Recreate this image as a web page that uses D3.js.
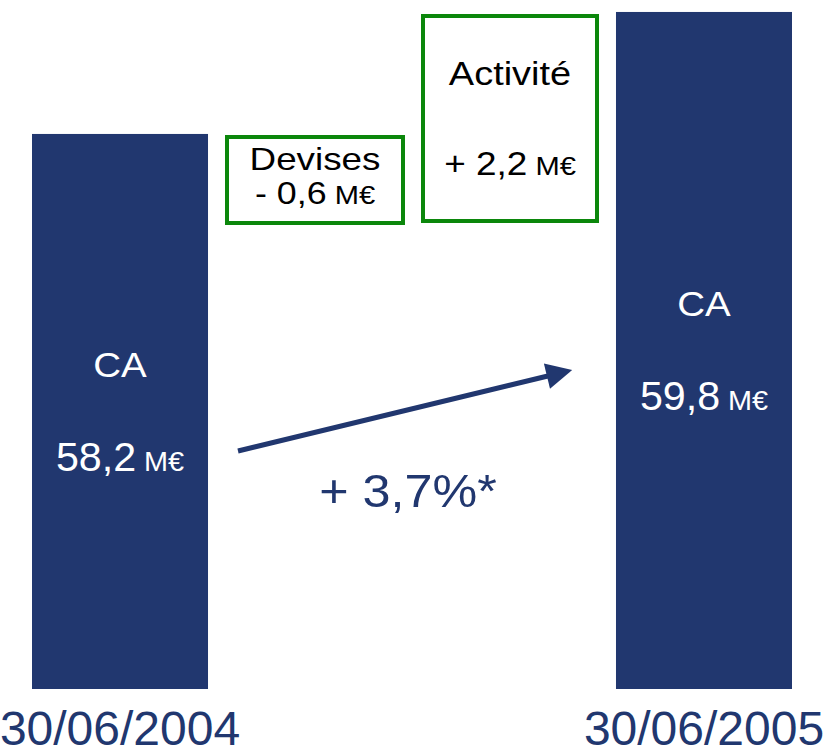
<!DOCTYPE html>
<html>
<head>
<meta charset="utf-8">
<script src="https://cdn.jsdelivr.net/npm/d3@7"></script>
<style>
  body { margin: 0; background: #fff; }
  svg { display: block; font-family: "Liberation Sans", Arial, sans-serif; }
</style>
</head>
<body>
<svg class="chart"></svg>
<script>
// data
var dates = ["30/06/2004", "30/06/2005"];
var caValues = [58.2, 59.8];
var stepNames = ["Devises", "Activité"];
var stepValues = [-0.6, 2.2];
var growthLabel = "+ 3,7%*";

var navy = "#21376f",
	green = "#0b870b";

var w = 825, h = 751;
var comma = function(v) { return Math.abs(v).toFixed(1).replace(".", ","); };
var fmt = function(v) { return (v > 0 ? "+ " : "- ") + comma(v); };
// slide text is a bit wider than the font, stretch horizontally
var place = function(x, y, sx) { return "translate(" + x + "," + y + ") scale(" + sx + ",1)"; };

var chart = d3.select(".chart")
	.attr("width", w)
	.attr("height", h);

// X scale
var xScale = d3.scaleBand()
	.domain(dates)
	.range([32, 792])
	.paddingInner(0.6986)
	.paddingOuter(0);

// Y scale (truncated axis, like the original slide)
var yScale = d3.scaleLinear()
	.domain([50.92, 59.957])
	.range([689, 0]);

var data = dates.map(function(d, i) { return {date: d, value: caValues[i]}; });
var cx = function(d) { return xScale(d.date) + xScale.bandwidth() / 2; };
var cy = function(d) { return (yScale(d.value) + yScale.range()[0]) / 2; };

var bar = chart.selectAll("g.bar")
	.data(data)
	.enter().append("g")
	.attr("class", "bar");

bar.append("rect")
	.attr("x", function(d) { return xScale(d.date); })
	.attr("y", function(d) { return yScale(d.value); })
	.attr("width", xScale.bandwidth())
	.attr("height", function(d) { return yScale.range()[0] - yScale(d.value); })
	.attr("fill", navy);

// CA label, centred in the bar
bar.append("text")
	.attr("transform", function(d) { return place(cx(d), cy(d) - 34, 1.1); })
	.attr("text-anchor", "middle")
	.attr("font-size", 35)
	.attr("fill", "#fff")
	.text("CA");

var val = bar.append("text")
	.attr("transform", function(d) { return place(cx(d), cy(d) + 60, 1.03); })
	.attr("text-anchor", "middle")
	.attr("font-size", 40)
	.attr("fill", "#fff");
val.append("tspan").text(function(d) { return comma(d.value); });
val.append("tspan").attr("font-size", 28).text(" M€");

// date labels
chart.append("g")
	.selectAll("text")
	.data(dates)
	.enter().append("text")
	.attr("x", function(d) { return xScale(d) + xScale.bandwidth() / 2; })
	.attr("y", 745)
	.attr("text-anchor", "middle")
	.attr("font-size", 48)
	.attr("fill", navy)
	.text(function(d) { return d; });

// bridge boxes
var boxes = [
	{x: 227, y: 137, w: 176, h: 86, l1: 170, l2: 204, fs: 32},
	{x: 423, y: 16, w: 174, h: 205, l1: 85, l2: 175, fs: 33}
];
var box = chart.selectAll("g.step")
	.data(stepNames)
	.enter().append("g")
	.attr("class", "step");

box.append("rect")
	.attr("x", function(d, i) { return boxes[i].x; })
	.attr("y", function(d, i) { return boxes[i].y; })
	.attr("width", function(d, i) { return boxes[i].w; })
	.attr("height", function(d, i) { return boxes[i].h; })
	.attr("fill", "#fff")
	.attr("stroke", green)
	.attr("stroke-width", 4);

box.append("text")
	.attr("transform", function(d, i) { return place(boxes[i].x + boxes[i].w / 2, boxes[i].l1, 1.15); })
	.attr("text-anchor", "middle")
	.attr("font-size", function(d, i) { return boxes[i].fs; })
	.attr("fill", "#000")
	.text(function(d) { return d; });

var amt = box.append("text")
	.attr("transform", function(d, i) { return place(boxes[i].x + boxes[i].w / 2, boxes[i].l2, 1.12); })
	.attr("text-anchor", "middle")
	.attr("font-size", function(d, i) { return boxes[i].fs; })
	.attr("fill", "#000");
amt.append("tspan").text(function(d, i) { return fmt(stepValues[i]); });
amt.append("tspan").attr("font-size", 26).text(" M€");

// growth arrow
chart.append("defs").append("marker")
	.attr("id", "head")
	.attr("viewBox", "0 0 10 10")
	.attr("refX", 2)
	.attr("refY", 5)
	.attr("markerWidth", 6.4)
	.attr("markerHeight", 5.2)
	.attr("orient", "auto")
	.attr("markerUnits", "strokeWidth")
	.append("path")
	.attr("d", "M0,0L10,5L0,10Z")
	.attr("fill", navy);

chart.append("line")
	.attr("x1", 238).attr("y1", 451)
	.attr("x2", 552).attr("y2", 375)
	.attr("stroke", navy)
	.attr("stroke-width", 5)
	.attr("marker-end", "url(#head)");

chart.append("text")
	.attr("transform", place(408, 507, 1.07))
	.attr("text-anchor", "middle")
	.attr("font-size", 47)
	.attr("fill", navy)
	.text(growthLabel);
</script>
</body>
</html>
